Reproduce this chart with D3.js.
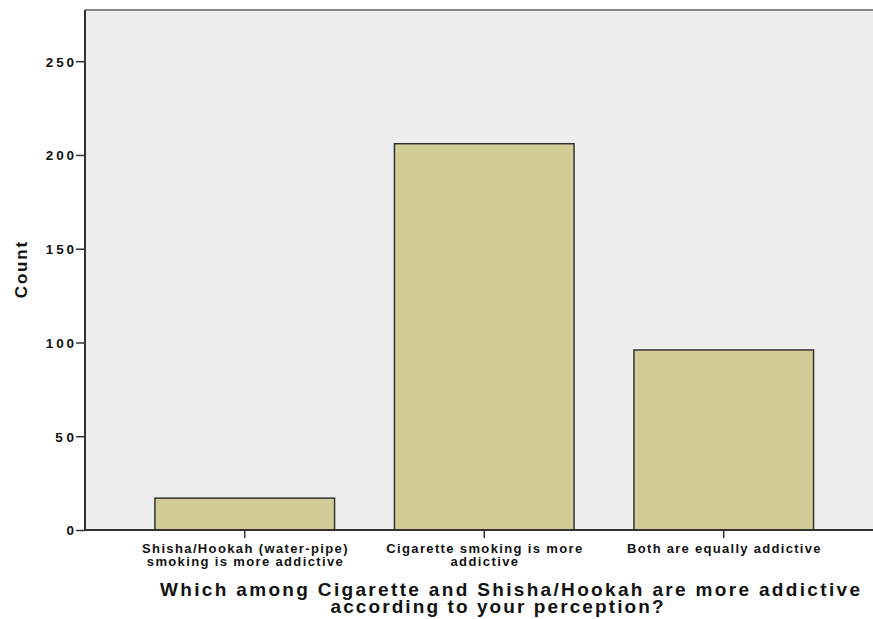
<!DOCTYPE html>
<html><head><meta charset="utf-8">
<script src="https://cdn.jsdelivr.net/npm/d3@7"></script>
<style>body{margin:0;background:#fff}svg{display:block}text{font-family:"Liberation Sans",Arial,sans-serif;font-weight:bold;fill:#111}</style>
</head><body>
<script>
const categories = [["Shisha/Hookah (water-pipe)","smoking is more addictive"],["Cigarette smoking is more","addictive"],["Both are equally addictive"]];
const counts = [17, 206, 96];
const yTicks = [0, 50, 100, 150, 200, 250];
const yLabel = "Count";
const xTitle = ["Which among Cigarette and Shisha/Hookah are more addictive","according to your perception?"];

const W = 873, H = 619;
const svg = d3.select("body").append("svg").attr("width", W).attr("height", H);
const L = 85, T = 10, R = 873, B = 530;
const y = d3.scaleLinear().domain([0, 277.3]).range([B, T]);
const x = d3.scaleBand().domain(d3.range(categories.length)).range([125, 843.5]).paddingInner(0.25).paddingOuter(0.125);

function widen(sel, k) {
  sel.each(function(){
    const n = this.getComputedTextLength();
    d3.select(this).attr("textLength", n * k).attr("lengthAdjust", "spacing");
  });
}

svg.append("rect").attr("x", L).attr("y", T).attr("width", R - L).attr("height", B - T).attr("fill", "#eeeeee");
svg.append("line").attr("x1", L).attr("x2", R).attr("y1", T).attr("y2", T).attr("stroke", "#858585").attr("stroke-width", 2);

svg.selectAll("rect.bar").data(counts).enter().append("rect").attr("class","bar")
  .attr("x", (d,i) => x(i)).attr("width", x.bandwidth())
  .attr("y", d => y(d)).attr("height", d => B - y(d))
  .attr("fill", "#d2cd96").attr("stroke", "#333").attr("stroke-width", 1.5);

const ya = svg.append("g").attr("transform", `translate(${L},0)`)
  .call(d3.axisLeft(y).tickValues(yTicks).tickSize(9).tickPadding(2));
ya.select(".domain").attr("stroke", "#333").attr("stroke-width", 2).attr("d", `M0,${T}V${B}`);
ya.selectAll(".tick line").attr("stroke", "#333").attr("stroke-width", 1.5);
ya.selectAll(".tick text").attr("font-size", 13.5).attr("fill", "#111").attr("dy","0.36em");
widen(ya.selectAll(".tick text"), 1.25);

const xa = svg.append("g").attr("transform", `translate(0,${B})`)
  .call(d3.axisBottom(x).tickSize(8).tickFormat(""));
xa.select(".domain").attr("stroke", "#333").attr("stroke-width", 2).attr("d", `M${L},0H${R}`);
xa.selectAll(".tick line").attr("stroke", "#333").attr("stroke-width", 1.5);
xa.selectAll(".tick").each(function(d){
  const t = d3.select(this).append("text").attr("text-anchor","middle").attr("font-size",13).attr("fill","#111");
  categories[d].forEach((ln, k) => {
    const s = t.append("tspan").attr("x", 0).attr("y", 23 + k*12.5).text(ln);
    widen(s, 1.2);
  });
});

const cl = svg.append("text").attr("transform", "translate(27,270) rotate(-90)").attr("text-anchor","middle")
  .attr("font-size", 17).text(yLabel);
widen(cl, 1.15);
const tt = svg.append("text").attr("text-anchor","middle").attr("font-size",19);
const targets = [[510, 596, 700], [497, 613, 333]];
xTitle.forEach((ln, k) => {
  const s = tt.append("tspan").attr("x", targets[k][0]).attr("y", targets[k][1]).text(ln);
  widen(s, targets[k][2] / s.node().getComputedTextLength());
});
</script>
</body></html>
